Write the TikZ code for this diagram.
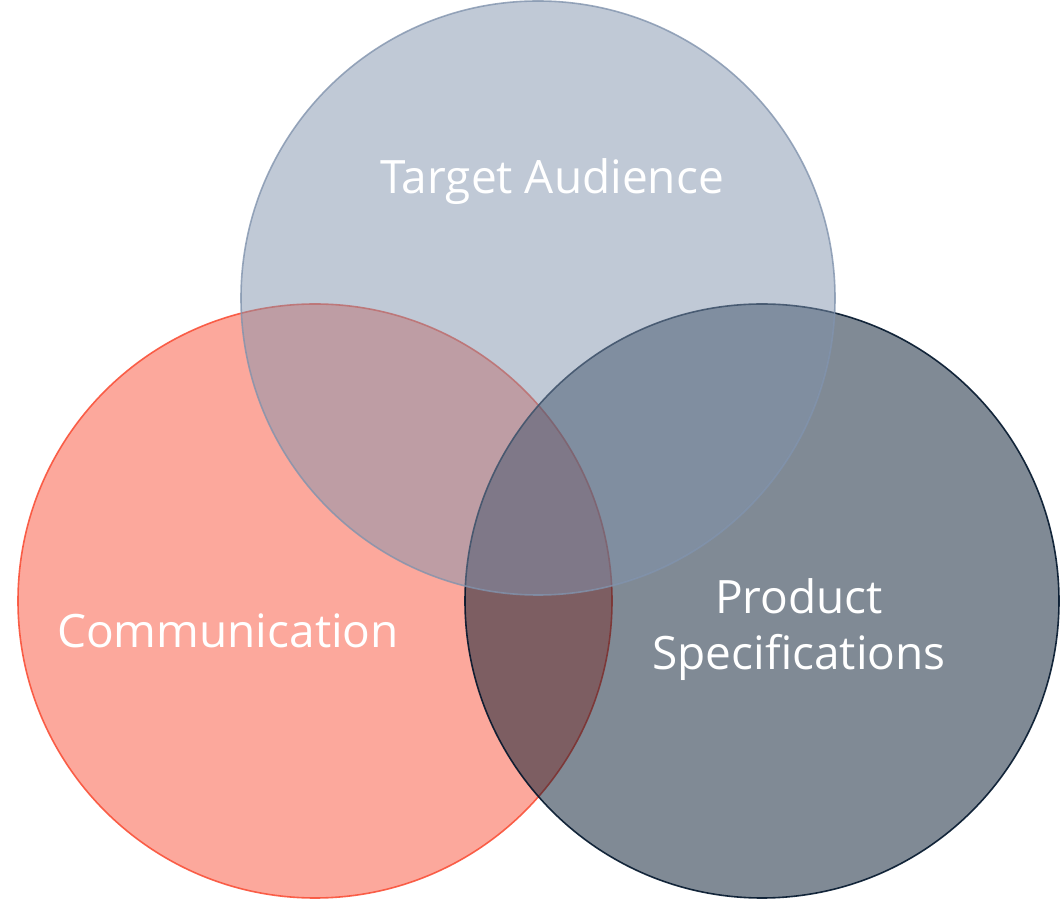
\documentclass[tikz,border=0pt]{standalone}
\usepackage{fontspec}
\setmainfont{Open Sans}
\begin{document}
\begin{tikzpicture}[x=1pt,y=1pt,
  circ/.style={circle,minimum size=594pt,inner sep=0pt,line width=1.6pt,fill opacity=0.5},
  lbl/.style={text=white,font=\fontsize{46}{56}\selectfont,align=center}]
\useasboundingbox (0,0) rectangle (1061,900);
\definecolor{cL}{HTML}{F95139}
\definecolor{cR}{HTML}{01152B}
\definecolor{cT}{HTML}{8193AD}
\node[circ,fill=cL,draw=cL,draw opacity=0.9] (left) at (315,299) {};
\node[circ,fill=cR,draw=cR,draw opacity=0.9] (right) at (762,299) {};
\node[circ,fill=cT,draw=cT,draw opacity=0.8] (top) at (538,602) {};
\node[lbl] (ta) at (552,718) {Target Audience};
\node[lbl] (co) at (228,269) {Communication};
\node[lbl] (ps) at (799,270) {Product\\Specifications};
\end{tikzpicture}
\end{document}
